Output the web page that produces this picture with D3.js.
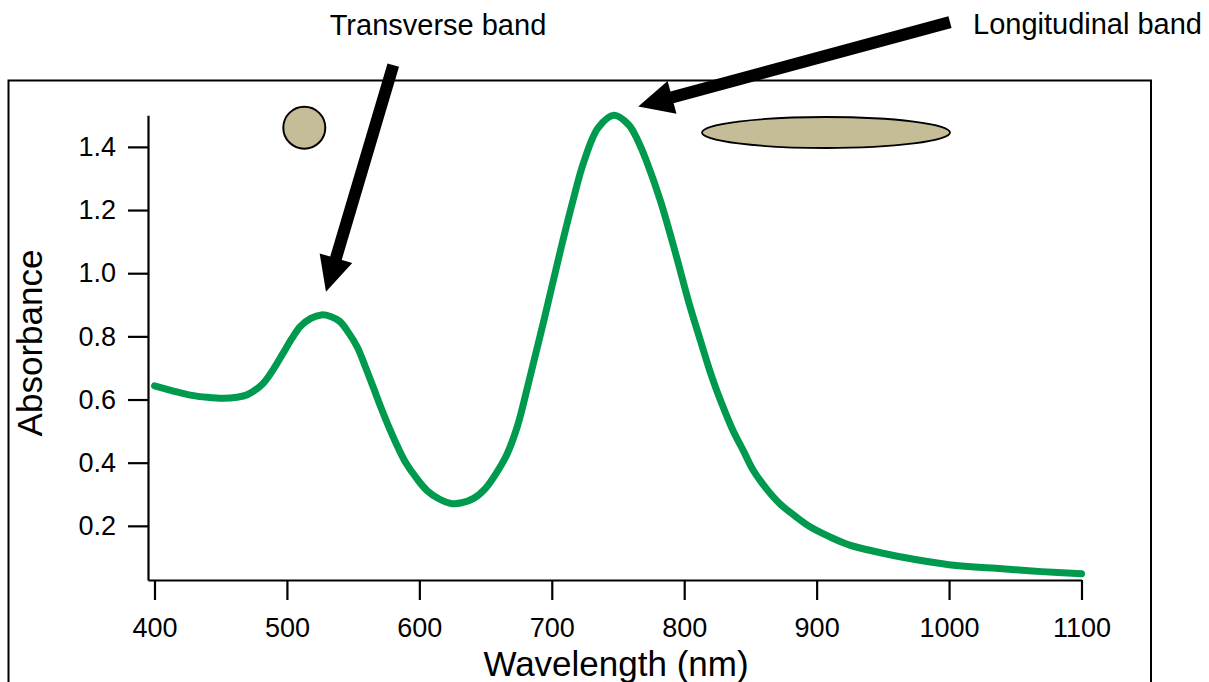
<!DOCTYPE html>
<html>
<head>
<meta charset="utf-8">
<script src="https://cdn.jsdelivr.net/npm/d3@7"></script>
<style>
    body { margin: 0; background: #fff; }
    svg { display: block; font-family: "Liberation Sans", Arial, sans-serif; }
</style>
</head>
<body>
<svg id="spectrum" width="1209" height="682"></svg>
<script>
// wavelength (nm) and absorbance
const wavelength = [400, 415, 427, 440, 452, 462, 470, 482, 490, 497, 504, 510, 518, 526, 533, 540, 546, 553, 559, 565, 571, 578, 584, 590, 598, 606, 615, 624, 632, 641, 650, 658, 666, 674, 682, 694, 707, 716, 724, 735, 747, 758, 765, 772, 782, 793, 804, 812, 821, 829, 837, 845, 852, 862, 872, 884, 895, 910, 925, 945, 963, 1000, 1040, 1070, 1100];
const absorbance = [0.643, 0.626, 0.614, 0.607, 0.604, 0.607, 0.615, 0.651, 0.697, 0.746, 0.795, 0.831, 0.857, 0.868, 0.863, 0.847, 0.815, 0.767, 0.706, 0.641, 0.575, 0.503, 0.447, 0.398, 0.350, 0.311, 0.285, 0.271, 0.273, 0.287, 0.319, 0.366, 0.425, 0.515, 0.645, 0.850, 1.080, 1.230, 1.350, 1.460, 1.500, 1.470, 1.420, 1.350, 1.230, 1.070, 0.900, 0.790, 0.670, 0.580, 0.500, 0.435, 0.377, 0.318, 0.271, 0.230, 0.197, 0.165, 0.139, 0.118, 0.102, 0.077, 0.064, 0.055, 0.048];

const xTicks = [400, 500, 600, 700, 800, 900, 1000, 1100];
const yTicks = [0.2, 0.4, 0.6, 0.8, 1.0, 1.2, 1.4];

// annotation arrows: tail and tip in data units
const bandLabels = ["Transverse band", "Longitudinal band"];
const arrowTails = [[580.3, 1.659], [1000.7, 1.795]];
const arrowTips = [[529.5, 0.941], [765.3, 1.528]];

const svg = d3.select("#spectrum");

const x = d3.scaleLinear().domain([395.1, 1100]).range([148, 1081.5]);
const y = d3.scaleLinear().domain([0.0285, 1.5]).range([580, 115.3]);

// outer frame
svg.append("rect")
    .attr("x", 8.5)
    .attr("y", 80.5)
    .attr("width", 1142.5)
    .attr("height", 700)
    .attr("fill", "none")
    .attr("stroke", "#000")
    .attr("stroke-width", 2);

// axes
const yAxis = svg.append("g")
    .attr("transform", "translate(148,0)")
    .call(d3.axisLeft(y).tickValues(yTicks).tickFormat(d3.format(".1f"))
        .tickSize(20).tickSizeOuter(0).tickPadding(12));

const xAxis = svg.append("g")
    .attr("transform", "translate(0,580)")
    .call(d3.axisBottom(x).tickValues(xTicks).tickFormat(d3.format("d"))
        .tickSize(20).tickSizeOuter(0).tickPadding(18));

[xAxis, yAxis].forEach(function (g) {
    g.selectAll("path, line").attr("stroke", "#000").attr("stroke-width", 2.2);
    g.selectAll("text").attr("font-size", 27).attr("fill", "#000")
        .attr("font-family", "'Liberation Sans', Arial, sans-serif");
});

svg.append("text")
    .attr("x", 616)
    .attr("y", 676)
    .attr("text-anchor", "middle")
    .attr("font-size", 35)
    .text("Wavelength (nm)");

svg.append("text")
    .attr("transform", "translate(42,343) rotate(-90)")
    .attr("text-anchor", "middle")
    .attr("font-size", 35)
    .text("Absorbance");

// spectrum
const points = wavelength.map(function (w, i) { return [w, absorbance[i]]; });

svg.append("path")
    .datum(points)
    .attr("fill", "none")
    .attr("stroke", "#009a4f")
    .attr("stroke-width", 7)
    .attr("stroke-linecap", "round")
    .attr("stroke-linejoin", "round")
    .attr("d", d3.line()
        .x(function (d) { return x(d[0]); })
        .y(function (d) { return y(d[1]); })
        .curve(d3.curveCatmullRom.alpha(0.5)));

// particle shapes
svg.append("circle")
    .attr("cx", 304.3)
    .attr("cy", 127.7)
    .attr("r", 21)
    .attr("fill", "#c4bd98")
    .attr("stroke", "#000")
    .attr("stroke-width", 2);

svg.append("ellipse")
    .attr("cx", 826)
    .attr("cy", 132.5)
    .attr("rx", 124)
    .attr("ry", 15.5)
    .attr("fill", "#c4bd98")
    .attr("stroke", "#000")
    .attr("stroke-width", 1.8);

// arrows
const headLength = 35;
const headWidth = 34;

arrowTails.forEach(function (tail, i) {
    const x0 = x(tail[0]), y0 = y(tail[1]);
    const x1 = x(arrowTips[i][0]), y1 = y(arrowTips[i][1]);
    const len = Math.hypot(x1 - x0, y1 - y0);
    const ux = (x1 - x0) / len, uy = (y1 - y0) / len;
    const bx = x1 - ux * headLength, by = y1 - uy * headLength;

    svg.append("line")
        .attr("x1", x0).attr("y1", y0)
        .attr("x2", bx + ux * 2).attr("y2", by + uy * 2)
        .attr("stroke", "#000")
        .attr("stroke-width", 12);

    svg.append("path")
        .attr("d", "M" + x1 + "," + y1 +
            "L" + (bx - uy * headWidth / 2) + "," + (by + ux * headWidth / 2) +
            "L" + (bx + uy * headWidth / 2) + "," + (by - ux * headWidth / 2) + "Z")
        .attr("fill", "#000");
});

svg.append("text")
    .attr("x", 438)
    .attr("y", 35)
    .attr("text-anchor", "middle")
    .attr("font-size", 29)
    .text(bandLabels[0]);

svg.append("text")
    .attr("x", 973)
    .attr("y", 34)
    .attr("font-size", 29)
    .text(bandLabels[1]);
</script>
</body>
</html>
